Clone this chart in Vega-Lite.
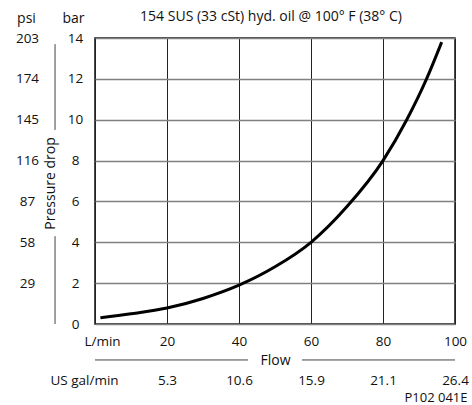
{
  "$schema": "https://vega.github.io/schema/vega-lite/v6.json",
  "width": 360,
  "height": 286,
  "autosize": "none",
  "padding": {"left": 95, "top": 38, "right": 17, "bottom": 81},
  "background": "white",
  "config": {
    "view": {"stroke": "#111", "strokeWidth": 1.5},
    "font": "Open Sans",
    "axis": {"labelFont": "Open Sans", "titleFont": "Open Sans", "labelColor": "#111", "titleColor": "#111", "labelFontSize": 13.5, "titleFontSize": 14, "titleFontWeight": "normal", "ticks": false, "tickSize": 0, "domain": false, "labelOverlap": false, "labelFlush": false, "labelBound": false}
  },
  "title": {"text": "154 SUS (33 cSt) hyd. oil @ 100° F (38° C)", "frame": "group", "anchor": "middle", "dx": -4, "offset": -20, "fontSize": 14, "fontWeight": "normal", "font": "Open Sans", "color": "#111", "baseline": "middle"},
  "resolve": {"scale": {"x": "independent", "y": "independent"}, "axis": {"x": "independent", "y": "independent"}},
  "layer": [
    {
      "data": {"values": [
        {"flow": 1.5, "dp": 0.31},
        {"flow": 10, "dp": 0.5},
        {"flow": 20, "dp": 0.78},
        {"flow": 30, "dp": 1.25},
        {"flow": 40, "dp": 1.9},
        {"flow": 50, "dp": 2.8},
        {"flow": 60, "dp": 4.0},
        {"flow": 70, "dp": 5.75},
        {"flow": 80, "dp": 8.0},
        {"flow": 86.6, "dp": 10.0},
        {"flow": 92.1, "dp": 12.0},
        {"flow": 96.3, "dp": 13.8}
      ]},
      "mark": {"type": "line", "color": "#000", "strokeWidth": 3, "interpolate": "monotone"},
      "encoding": {
        "x": {"field": "flow", "type": "quantitative", "scale": {"domain": [0, 100], "nice": false},
          "axis": {"orient": "bottom", "values": [0, 20, 40, 60, 80, 100], "labelExpr": "datum.value == 0 ? 'L/min' : datum.label", "labelOffset": {"condition": {"test": "datum.value == 0", "value": 7}, "value": 0}, "labelPadding": 10, "labelBaseline": "top", "grid": true, "gridColor": "#222", "gridWidth": 1, "title": "Flow", "titleY": 36, "titleBaseline": "middle", "titleX": 180}},
        "y": {"field": "dp", "type": "quantitative", "scale": {"domain": [0, 14], "nice": false},
          "axis": {"orient": "left", "values": [0, 2, 4, 6, 8, 10, 12, 14], "labelAlign": "center", "labelBaseline": "middle", "labelPadding": 20, "grid": true, "gridColor": "#808080", "gridWidth": 1.5, "title": "bar", "titleAngle": 0, "titleAlign": "center", "titleBaseline": "middle", "titleX": -22, "titleY": -20}}
      }
    },
    {
      "data": {"values": [
        {"xp": -11.1, "y1": 13.7, "y2": 9.5},
        {"xp": -11.1, "y1": 4.3, "y2": 0}
      ]},
      "mark": {"type": "rule", "color": "#444", "strokeWidth": 1},
      "encoding": {
        "x": {"field": "xp", "type": "quantitative", "scale": {"domain": [0, 100], "nice": false}, "axis": null},
        "y": {"field": "y1", "type": "quantitative", "scale": {"domain": [0, 14], "nice": false},
          "axis": {"orient": "left", "values": [2, 4, 6, 8, 10, 12, 14], "labelExpr": "format(datum.value * 14.5, 'd')", "labelAlign": "center", "labelBaseline": "middle", "labelPadding": 68, "grid": false, "title": "psi", "titleAngle": 0, "titleAlign": "center", "titleBaseline": "middle", "titleX": -69, "titleY": -20}},
        "y2": {"field": "y2"}
      }
    },
    {
      "data": {"values": [
        {"x1": 0, "x2": 42.5, "yp": -1.76},
        {"x1": 57.5, "x2": 100, "yp": -1.76}
      ]},
      "mark": {"type": "rule", "color": "#444", "strokeWidth": 1},
      "encoding": {
        "x": {"field": "x1", "type": "quantitative", "scale": {"domain": [0, 100], "nice": false},
          "axis": {"orient": "bottom", "values": [0, 20, 40, 60, 80, 100], "labelExpr": "datum.value == 0 ? 'US gal/min' : format(datum.value * 0.264172, '.1f')", "labelOffset": {"condition": {"test": "datum.value == 0", "value": -11}, "value": 0}, "labelPadding": 49, "labelBaseline": "top", "grid": false, "title": "P102 041E", "titleFontSize": 13, "titleAnchor": "end", "titleAlign": "right", "titleBaseline": "middle", "titleX": 372, "titleY": 73}},
        "x2": {"field": "x2"},
        "y": {"field": "yp", "type": "quantitative", "scale": {"domain": [0, 14], "nice": false},
          "axis": {"orient": "left", "values": [], "labels": false, "grid": false, "title": "Pressure drop", "titleAngle": -90, "titleAlign": "center", "titleBaseline": "middle", "titleX": -45, "titleY": 145}}
      }
    }
  ]
}
